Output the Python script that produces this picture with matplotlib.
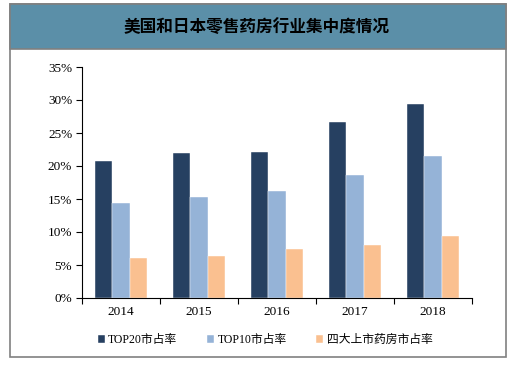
import numpy as np
import matplotlib.pyplot as plt
from matplotlib.patches import Rectangle
from matplotlib.ticker import FixedLocator, FuncFormatter

years = ['2014', '2015', '2016', '2017', '2018']
top20 = [20.7, 22.0, 22.1, 26.7, 29.4]
top10 = [14.4, 15.3, 16.2, 18.6, 21.5]
big4 = [6.1, 6.4, 7.4, 8.0, 9.4]
names = ['TOP20市占率', 'TOP10市占率', '四大上市药房市占率']
colors = ['#264061', '#95B3D7', '#FAC090']

plt.rcParams['font.family'] = ['Liberation Serif', 'Noto Sans CJK SC']

fig = plt.figure(figsize=(5.3, 3.65), dpi=100)

# frame and title band
fig.patches.append(Rectangle((10 / 530, 1 - 357 / 365), 496 / 530, 353 / 365,
                             transform=fig.transFigure, facecolor='white',
                             edgecolor='#808080', linewidth=1.2, zorder=-2))
fig.patches.append(Rectangle((10 / 530, 1 - 49 / 365), 496 / 530, 45 / 365,
                             transform=fig.transFigure, facecolor='#5B8FA8',
                             edgecolor='#808080', linewidth=1.2, zorder=-1))
fig.text(257 / 530, 1 - 27 / 365, '美国和日本零售药房行业集中度情况',
         ha='center', va='center', fontsize=12, fontweight='bold',
         family=['Noto Sans CJK SC'])

ax = fig.add_axes([82 / 530, 67 / 365, 390 / 530, 231 / 365])
ax.set_zorder(2)
ax.set_facecolor('none')
x = np.arange(len(years))
w = 0.22
for i, (vals, name, c) in enumerate(zip([top20, top10, big4], names, colors)):
    ax.bar(x + (i - 1) * w, vals, w, color=c, label=name,
           edgecolor='white', linewidth=0.3)

ax.set_xlim(-0.5, len(years) - 0.5)
ax.set_ylim(0, 35)
ax.set_yticks(np.arange(0, 36, 5))
ax.yaxis.set_major_formatter(FuncFormatter(lambda v, p: f'{int(v)}%'))
ax.set_xticks(x)
ax.set_xticklabels(years)
ax.xaxis.set_minor_locator(FixedLocator(np.arange(-0.5, len(years), 1)))
ax.tick_params(axis='x', which='major', length=0, pad=6, labelsize=9.5)
ax.tick_params(axis='x', which='minor', length=4, width=0.8, direction='out')
ax.tick_params(axis='y', length=4, width=0.8, direction='out', labelsize=9.5, pad=3)
for s in ['top', 'right']:
    ax.spines[s].set_visible(False)
ax.spines['left'].set_linewidth(0.8)
ax.spines['bottom'].set_linewidth(0.8)

ax.legend(loc='center', bbox_to_anchor=(0.5, 1 - 340 / 365), bbox_transform=fig.transFigure,
          ncol=3, frameon=False, fontsize=8.5, handlelength=0.6, handleheight=0.6,
          handletextpad=0.3, columnspacing=2.5)

fig.savefig('out.png', dpi=100)
